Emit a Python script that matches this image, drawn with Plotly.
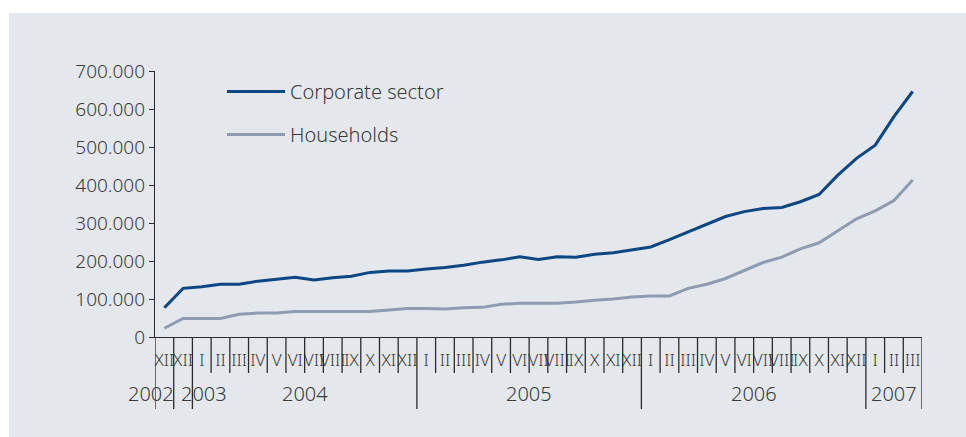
import plotly.graph_objects as go

# Monthly series, December 2002 to March 2007
month_labels = (
    ["XII"]                       # 2002
    + ["XII"]                     # 2003
    + ["I", "II", "III", "IV", "V", "VI", "VII", "VIII", "IX", "X", "XI", "XII"]  # 2004
    + ["I", "II", "III", "IV", "V", "VI", "VII", "VIII", "IX", "X", "XI", "XII"]  # 2005
    + ["I", "II", "III", "IV", "V", "VI", "VII", "VIII", "IX", "X", "XI", "XII"]  # 2006
    + ["I", "II", "III"]          # 2007
)
years = ["2002", "2003", "2004", "2005", "2006", "2007"]
months_per_year = [1, 1, 12, 12, 12, 3]

corporate_sector = [
    77000, 128000, 132000, 139000, 139000, 147000, 152000, 157000, 150000, 156000,
    160000, 170000, 174000, 174000, 179000, 183000, 189000, 197000, 203000, 211000,
    204000, 211000, 210000, 218000, 222000, 230000, 237000, 256000, 277000, 297000,
    317000, 330000, 338000, 341000, 356000, 375000, 426000, 470000, 505000, 580000,
    646000,
]
households = [
    23000, 49000, 49000, 49000, 60000, 63000, 63000, 67000, 67000, 67000,
    67000, 67000, 71000, 75000, 75000, 74000, 77000, 78000, 86000, 89000,
    89000, 89000, 92000, 97000, 100000, 105000, 108000, 108000, 128000, 139000,
    154000, 174000, 196000, 210000, 232000, 248000, 279000, 311000, 332000, 359000,
    413000,
]

y_ticks = [0, 100000, 200000, 300000, 400000, 500000, 600000, 700000]

FONT = "Noto Sans"
WEIGHT = 300
TEXT = "#3a3a3a"
AXIS = "#2b2b2b"
PANEL = "#e4e7ec"

W, H = 966, 437
ML, MR, MT, MB = 155, 44, 71, 100
PW, PH = W - ML - MR, H - MT - MB

x = list(range(len(month_labels)))

fig = go.Figure()
fig.add_trace(go.Scatter(
    x=x, y=corporate_sector, mode="lines", name="Corporate sector",
    line=dict(color="#0c4683", width=3), legendgroup="a",
))
fig.add_trace(go.Scatter(
    x=x, y=households, mode="lines", name="Households",
    line=dict(color="#8f9bb1", width=3), legendgroup="b",
))

shapes = []
# grey panel behind the chart
shapes.append(dict(
    type="rect", xref="paper", yref="paper", layer="below",
    x0=(9 - ML) / PW, x1=(W - ML) / PW,
    y0=-MB / PH, y1=(H - 13 - MB) / PH,
    fillcolor=PANEL, line=dict(width=0),
))

# month separators (short) and year separators (long)
year_bounds = [-0.5]
for n in months_per_year:
    year_bounds.append(year_bounds[-1] + n)
month_len = 36 / PH
year_len = 72 / PH
for i in range(len(month_labels) + 1):
    b = i - 0.5
    long_tick = b in year_bounds
    shapes.append(dict(
        type="line", xref="x", yref="paper",
        x0=b, x1=b, y0=0, y1=-(year_len if long_tick else month_len),
        line=dict(color=AXIS, width=1.3),
    ))

annotations = []
# year labels centred under their months
shifts = {"2002": -13, "2003": 21}
for k, yr in enumerate(years):
    centre = (year_bounds[k] + year_bounds[k + 1]) / 2
    annotations.append(dict(
        x=centre, y=-56 / PH, xref="x", yref="paper", text=yr,
        showarrow=False, xanchor="center", yanchor="middle",
        xshift=shifts.get(yr, 0),
        font=dict(family=FONT, size=20, color=TEXT, weight=WEIGHT),
    ))

fig.update_layout(
    width=W, height=H,
    margin=dict(l=ML, r=MR, t=MT, b=MB, pad=0),
    paper_bgcolor="white", plot_bgcolor="rgba(0,0,0,0)",
    separators=",.",
    font=dict(family=FONT, color=TEXT, weight=WEIGHT),
    shapes=shapes, annotations=annotations,
    showlegend=True,
    legend=dict(
        x=(222 - ML) / PW, y=(H - MB - 72) / PH, xanchor="left", yanchor="top",
        bgcolor="rgba(0,0,0,0)",
        font=dict(family=FONT, size=20, color=TEXT, weight=WEIGHT),
        tracegroupgap=14, itemwidth=58,
    ),
    xaxis=dict(
        range=[-0.5, len(month_labels) - 0.5],
        tickmode="array", tickvals=x, ticktext=month_labels,
        ticks="", showgrid=False, zeroline=False, tickangle=0,
        showline=True, linecolor=AXIS, linewidth=1.3,
        tickfont=dict(family=FONT, size=17, color=TEXT, weight=WEIGHT),
        ticklabelstandoff=7,
    ),
    yaxis=dict(
        range=[0, 700000], tickmode="array", tickvals=y_ticks,
        tickformat=",d", ticks="outside", ticklen=5, tickcolor=AXIS,
        showgrid=False, zeroline=False,
        showline=True, linecolor=AXIS, linewidth=1.3,
        tickfont=dict(family=FONT, size=19, color=TEXT, weight=WEIGHT),
    ),
)

fig.write_html("out.html")
